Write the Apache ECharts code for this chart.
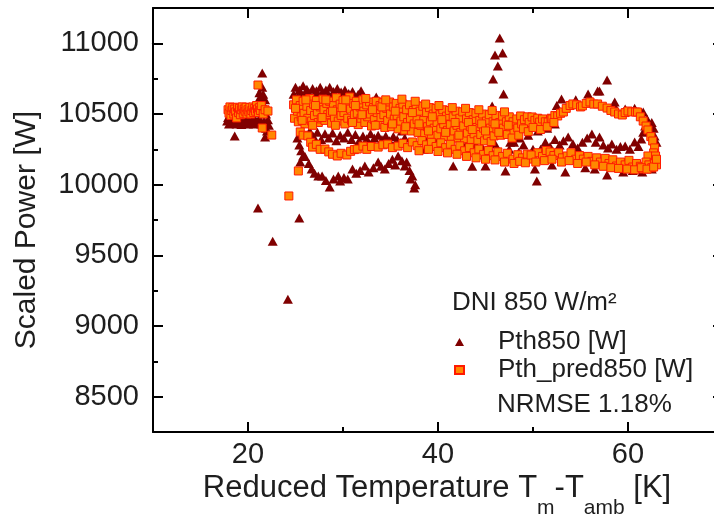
<!DOCTYPE html>
<html><head><meta charset="utf-8">
<script src="https://cdn.jsdelivr.net/npm/echarts@6/dist/echarts.min.js"></script>
<style>html,body{margin:0;padding:0;background:#fff}#c{width:714px;height:522px}</style>
</head><body><div id="c"></div>
<script>
// ---- data (x = Tm - Tamb [K], y = scaled power [W]) ----
const xRange = [10, 70];
const yRange = [8250, 11250];
const xMajor = [20, 60, 20];      // first labelled tick, last labelled tick, step
const yMajor = [8500, 11000, 500];

const pthCluster = [[17.8,10450],[17.9,10475],[18.0,10430],[18.1,10465],[18.3,10440],[18.4,10478],[18.6,10345],[18.6,10455],[18.8,10430],[19.0,10470],[19.1,10445],[19.3,10425],[19.5,10460],[19.6,10440],[19.8,10475],[20.0,10430],[20.1,10455],[20.3,10440],[20.5,10470],[20.6,10430],[20.8,10455],[21.0,10440],[21.2,10470],[21.4,10430],[21.7,10450],[21.8,10337],[21.9,10400],[22.0,10380],[21.1,10600],[21.2,10650],[21.3,10580],[21.4,10620],[21.5,10690],[21.6,10640],[21.7,10560],[21.8,10600],[21.9,10500],[22.1,10460],[22.2,10420],[21.5,10790],[21.05,9835],[22.6,9600],[24.2,9190],[25.4,9765]];
const pthTop = [[24.8,10640],[25.0,10690],[25.2,10620],[25.4,10670],[25.6,10645],[25.8,10700],[26.0,10630],[26.2,10675],[26.4,10650],[26.6,10610],[26.8,10680],[27.0,10640],[27.2,10665],[27.4,10625],[27.6,10690],[27.8,10650],[28.0,10615],[28.2,10670],[28.4,10640],[28.6,10690],[28.8,10620],[29.0,10660],[29.2,10635],[29.4,10680],[29.6,10610],[29.8,10655],[30.0,10630],[30.2,10670],[30.4,10615],[30.6,10645],[30.8,10625],[31.0,10660],[31.3,10610],[31.6,10640],[31.9,10665],[32.2,10620],[32.5,10600],[32.8,10580],[33.2,10590],[33.5,10620],[34.2,10600],[35.0,10560],[36.0,10540],[36.8,10520]];
const pthMid = [[25.2,10330],[25.4,10280],[25.6,10240],[26.5,10380],[26.9,10340],[27.3,10370],[27.7,10320],[28.1,10360],[28.5,10330],[28.9,10365],[29.3,10310],[29.7,10350],[30.1,10330],[30.5,10370],[30.9,10320],[31.3,10355],[31.7,10310],[32.1,10345],[32.5,10325],[32.9,10360],[33.3,10330],[33.7,10350],[34.1,10320],[34.5,10345],[34.9,10310],[35.3,10340],[35.7,10320],[36.1,10300],[36.5,10330],[36.2,10380],[37.6,10420],[38.3,10330],[39.4,10415],[39.8,10360],[40.4,10300],[40.9,10340],[41.8,10514],[42.5,10290],[43.2,10310],[44.6,10270],[46.0,10290],[47.6,10300],[48.6,10330],[49.5,10350],[50.5,10380],[51.5,10400],[52.3,10430]];
const pthLow = [[25.5,10160],[25.8,10203],[26.0,10200],[26.4,10150],[26.7,10111],[27.0,10080],[27.4,10062],[27.8,10062],[28.2,10030],[28.6,9983],[29.0,10040],[29.5,10062],[29.7,10026],[30.1,10050],[30.5,10040],[31.0,10111],[31.4,10080],[31.8,10100],[32.3,10132],[32.7,10090],[33.2,10120],[33.7,10160],[34.0,10130],[34.4,10111],[34.8,10150],[35.2,10180],[35.5,10140],[35.8,10203],[36.2,10170],[36.5,10132],[36.7,10160],[37.0,10100],[37.1,10040],[37.3,10062],[37.6,10000],[37.5,9976]];
const pthRight = [[38.5,10250],[39.0,10330],[40.0,10320],[40.5,10280],[41.0,10350],[41.6,10132],[42.0,10450],[43.0,10250],[43.6,10130],[44.0,10280],[44.5,10210],[45.0,10132],[45.5,10250],[46.5,10220],[47.1,10097],[47.5,10250],[48.0,10300],[48.5,10230],[49.0,10280],[49.5,10200],[50.0,10250],[50.2,10111],[50.4,10026],[50.8,10250],[51.3,10300],[51.8,10270],[52.3,10320],[52.8,10280],[53.2,10310],[53.7,10337],[54.2,10290],[54.7,10260],[55.2,10300],[55.7,10330],[56.2,10358],[56.6,10300],[57.0,10337],[57.4,10280],[57.9,10260],[58.3,10287],[58.8,10250],[59.2,10270],[59.7,10273],[60.2,10250],[60.7,10302],[61.1,10270],[61.4,10323],[61.6,10370],[61.8,10415],[62.0,10465],[62.3,10380],[62.5,10440],[62.7,10400],[62.8,10344],[63.0,10300],[53.0,10606],[52.5,10560],[54.5,10600],[55.8,10642],[56.0,10600],[56.8,10663],[57.0,10663],[57.8,10741],[58.6,10557],[58.6,10585],[59.7,10535],[60.7,10540],[61.6,10514],[62.1,10450],[53.4,10090],[52.0,10140],[55.5,10120],[56.5,10110],[57.8,10068],[59.5,10090],[60.5,10100],[61.5,10090],[62.5,10110]];
const pthSpike = [[45.3,10486],[45.7,10557],[45.8,10748],[46.0,10917],[46.3,10840],[46.5,11037],[46.8,10931],[46.9,10642],[46.2,10380],[45.9,10430]];

const predCluster = [[17.9,10530],[18.0,10505],[18.1,10550],[18.2,10490],[18.3,10525],[18.4,10545],[18.5,10500],[18.6,10535],[18.7,10515],[18.8,10472],[18.9,10548],[19.0,10510],[19.1,10540],[19.2,10495],[19.3,10530],[19.4,10550],[19.5,10505],[19.6,10535],[19.7,10520],[19.8,10548],[19.9,10500],[20.0,10530],[20.1,10515],[20.2,10545],[20.3,10500],[20.4,10525],[20.5,10550],[20.6,10510],[20.7,10540],[20.8,10520],[20.9,10560],[21.0,10535],[21.05,10705],[21.1,10510],[21.2,10545],[21.3,10525],[21.4,10560],[21.5,10401],[21.6,10500],[21.8,10530],[22.1,10521],[22.5,10351],[24.3,9920],[25.3,10097]];
const predUpper = [[24.8,10565],[24.9,10470],[25.1,10600],[25.2,10520],[25.3,10445],[25.5,10560],[25.6,10480],[25.8,10590],[25.9,10505],[26.0,10430],[26.2,10555],[26.3,10470],[26.5,10610],[26.6,10525],[26.7,10450],[26.9,10570],[27.0,10490],[27.2,10595],[27.3,10515],[27.4,10440],[27.6,10550],[27.7,10465],[27.9,10605],[28.0,10530],[28.1,10455],[28.3,10575],[28.4,10495],[28.6,10590],[28.7,10510],[28.8,10435],[29.0,10560],[29.1,10475],[29.3,10615],[29.4,10530],[29.5,10450],[29.7,10570],[29.8,10490],[30.0,10595],[30.1,10510],[30.2,10430],[30.4,10555],[30.5,10470],[30.7,10620],[30.8,10535],[30.9,10455],[31.1,10575],[31.2,10495],[31.4,10590],[31.5,10505],[31.6,10425],[31.8,10550],[31.9,10470],[32.1,10600],[32.2,10520],[32.3,10440],[32.5,10565],[32.6,10480],[32.8,10585],[32.9,10500],[33.0,10415],[33.2,10545],[33.3,10460],[33.5,10590],[33.6,10510],[33.7,10425],[33.9,10560],[34.0,10475],[34.2,10580],[34.3,10495],[34.4,10405],[34.6,10540],[34.7,10455],[34.9,10585],[35.0,10500],[35.1,10410],[35.3,10550],[35.4,10465],[35.6,10575],[35.7,10490],[35.8,10395],[36.0,10540],[36.1,10450],[36.3,10570],[36.4,10480],[36.5,10385],[36.7,10530],[36.8,10440],[37.0,10565],[37.1,10470],[37.2,10380],[37.4,10525],[37.5,10430],[37.7,10560],[37.8,10460],[37.9,10370],[38.1,10520],[38.2,10420],[38.4,10555],[38.5,10455],[38.6,10360],[38.8,10510],[38.9,10410],[39.1,10545],[39.2,10445],[39.3,10355],[39.5,10500],[39.6,10400],[39.8,10540],[39.9,10440],[40.0,10350],[40.2,10495],[40.3,10395],[40.5,10530],[40.6,10430],[40.7,10340],[40.9,10485],[41.0,10385],[41.2,10525],[41.3,10425],[41.4,10335],[41.6,10480],[41.7,10380],[41.9,10520],[42.0,10420],[42.1,10330],[42.3,10470],[42.4,10370],[42.6,10515],[42.7,10415],[42.8,10325],[43.0,10465],[43.1,10365],[43.3,10510],[43.4,10410],[43.5,10320],[43.7,10460],[43.8,10360],[44.0,10505],[44.1,10405],[44.2,10315],[44.4,10455],[44.5,10355],[44.7,10500],[44.8,10400],[44.9,10310],[45.1,10450],[45.2,10350],[45.4,10495],[45.5,10400],[45.6,10305],[45.8,10445],[45.9,10345],[46.1,10490],[46.2,10395],[46.5,10440],[46.6,10350],[46.8,10485],[46.9,10400],[47.2,10445],[47.3,10355],[47.5,10480],[47.6,10410],[47.9,10445],[48.0,10370],[48.3,10465],[48.4,10400],[48.7,10486],[48.8,10430],[49.1,10460],[49.4,10480],[49.6,10440],[49.9,10479],[50.2,10455],[50.5,10470],[50.7,10443],[51.0,10465],[51.3,10445],[51.6,10443],[51.9,10470],[52.0,10465],[52.3,10490],[52.6,10486],[52.9,10505]];
const predFill = [[25.0,10540],[25.7,10455],[26.1,10600],[26.8,10420],[27.1,10560],[27.8,10475],[28.2,10600],[28.9,10520],[29.2,10420],[29.9,10545],[30.3,10600],[31.0,10440],[31.3,10560],[32.0,10495],[32.4,10610],[33.1,10530],[33.4,10420],[34.1,10550],[34.5,10600],[35.2,10430],[35.5,10520],[36.2,10605],[36.6,10410],[37.3,10510],[37.6,10590],[38.0,10430],[38.7,10570],[39.0,10380],[39.4,10480],[40.1,10560],[40.4,10460],[40.8,10370],[41.5,10545],[41.8,10440],[42.2,10350],[42.9,10540],[43.2,10440],[43.6,10390],[44.3,10530],[44.6,10430],[45.0,10380],[45.7,10525],[46.0,10430],[46.4,10370],[47.0,10515],[47.4,10420],[47.8,10330],[48.5,10350],[49.0,10395],[49.5,10375],[50.0,10405],[50.8,10390],[51.5,10410],[52.2,10440]];
const predLoop = [[53.2,10514],[53.5,10540],[53.9,10560],[54.2,10571],[54.6,10565],[55.0,10550],[55.2,10557],[55.6,10575],[56.0,10585],[56.4,10570],[56.8,10571],[57.3,10555],[57.8,10542],[58.2,10525],[58.6,10514],[59.0,10500],[59.4,10493],[59.7,10510],[60.0,10521],[60.4,10515],[60.8,10514],[61.0,10514],[61.3,10480],[61.6,10450],[61.9,10415],[62.1,10387],[62.4,10340],[62.6,10309],[62.8,10260],[62.7,10225],[62.1,10203]];
const predLower = [[25.5,10373],[25.8,10350],[26.3,10345],[26.6,10300],[26.8,10266],[27.2,10285],[27.6,10250],[28.1,10252],[28.5,10232],[28.9,10215],[29.4,10203],[29.8,10222],[30.4,10210],[30.8,10236],[31.2,10248],[31.5,10252],[32.1,10273],[32.5,10250],[33.0,10270],[33.7,10266],[34.2,10282],[34.7,10287],[35.2,10262],[35.8,10273],[36.3,10292],[36.8,10262],[37.3,10302],[37.8,10276],[38.3,10312],[38.8,10282],[39.3,10300],[39.8,10270],[40.3,10296],[40.8,10262],[41.3,10286],[41.8,10250],[42.3,10275],[42.8,10240],[43.3,10262],[43.8,10226],[44.3,10252],[44.8,10214],[45.3,10242],[45.8,10205],[46.3,10232],[46.8,10200],[47.3,10222],[47.9,10181],[48.4,10212],[48.9,10190],[49.4,10216],[50.0,10181],[50.5,10226],[51.0,10200],[51.4,10242],[51.8,10231],[52.2,10206],[52.7,10226],[53.1,10190],[53.6,10203],[54.0,10226],[54.5,10180],[54.9,10206],[55.3,10181],[55.8,10200],[56.2,10165],[56.7,10190],[57.1,10160],[57.6,10186],[58.0,10150],[58.4,10176],[58.8,10132],[59.2,10160],[59.7,10140],[60.1,10172],[60.5,10125],[60.9,10150],[61.3,10130],[61.6,10111],[61.9,10160],[62.2,10140],[62.5,10120],[62.8,10160],[62.9,10203],[63.0,10140],[38.0,10240],[39.0,10250],[40.0,10235],[41.0,10225],[42.0,10215],[43.0,10200],[44.0,10190],[45.0,10180],[46.0,10175],[47.0,10160],[48.0,10150],[48.6,10165],[49.2,10155],[49.8,10210],[50.3,10160],[51.2,10170],[52.0,10180],[53.0,10160],[53.8,10170],[54.7,10150],[55.6,10160],[56.5,10140],[57.4,10130],[58.2,10120],[59.0,10115],[59.9,10110],[60.7,10105],[61.4,10120],[62.0,10110],[62.7,10125],[63.0,10180]];

const pthData = [].concat(pthCluster, pthTop, pthMid, pthLow, pthRight, pthSpike);
const predData = [].concat(predCluster, predUpper, predFill, predLoop, predLower);

// ---- layout ----
const FONT = 'Liberation Sans';
const TXT = '#1e1e1e';
const G = {left: 153, right: -9, top: 8, bottom: 90, W: 714, H: 522};
const plotW = G.W - G.left - G.right, plotH = G.H - G.top - G.bottom;
const pxX = plotW / (xRange[1] - xRange[0]);
const pxY = plotH / (yRange[1] - yRange[0]);
const gX = {left: G.left + (xMajor[0] - xRange[0]) * pxX, right: G.right + (xRange[1] - xMajor[1]) * pxX, top: G.top, bottom: G.bottom};
const gY = {left: G.left, right: G.right, top: G.top + (yRange[1] - yMajor[1]) * pxY, bottom: G.bottom + (yMajor[0] - yRange[0]) * pxY};
const noSplit = {show: false};
const blank = () => '';
const isMajorX = v => v >= xMajor[0] && v <= xMajor[1] && (v - xMajor[0]) % xMajor[2] === 0;
const isMajorY = v => v >= yMajor[0] && v <= yMajor[1] && (v - yMajor[0]) % yMajor[2] === 0;
const tickStyle = () => ({color: '#000', width: 2});
const ghostLabel = {show: true, color: 'rgba(0,0,0,0)', fontSize: 10, formatter: v => String(v)};

function minorX(pos, label) {
  return {gridIndex: 0, type: 'value', position: pos, min: xRange[0], max: xRange[1], interval: 10,
    axisLine: {show: true, onZero: false, lineStyle: tickStyle()},
    axisTick: {show: true, inside: true, length: 5, lineStyle: tickStyle()},
    axisLabel: {show: true, fontSize: 29, fontFamily: FONT, color: TXT, margin: 8,
      formatter: label ? (v => isMajorX(v) ? String(v) : '') : blank},
    splitLine: noSplit};
}
function majorX(pos) {
  return {gridIndex: 1, type: 'value', position: pos, min: xMajor[0], max: xMajor[1], interval: xMajor[2],
    axisLine: {show: true, onZero: false, lineStyle: tickStyle()},
    axisTick: {show: true, inside: true, length: 10, lineStyle: tickStyle()},
    axisLabel: ghostLabel,
    splitLine: noSplit};
}
function minorY(pos, label) {
  return {gridIndex: 0, type: 'value', position: pos, min: yRange[0], max: yRange[1], interval: 250,
    axisLine: {show: true, onZero: false, lineStyle: tickStyle()},
    axisTick: {show: true, inside: true, length: 5, lineStyle: tickStyle()},
    axisLabel: {show: true, fontSize: 29, fontFamily: FONT, color: TXT, margin: 14,
      formatter: label ? (v => isMajorY(v) ? String(v) : '') : blank},
    splitLine: noSplit};
}
function majorY(pos) {
  return {gridIndex: 2, type: 'value', position: pos, min: yMajor[0], max: yMajor[1], interval: yMajor[2],
    axisLine: {show: true, onZero: false, lineStyle: tickStyle()},
    axisTick: {show: true, inside: true, length: 10, lineStyle: tickStyle()},
    axisLabel: ghostLabel,
    splitLine: noSplit};
}
const hiddenAxis = (gi, range) => ({gridIndex: gi, type: 'value', min: range[0], max: range[1], show: false});

const chart = echarts.init(document.getElementById('c'), null, {renderer: 'canvas'});
chart.setOption({
  animation: false,
  backgroundColor: '#fff',
  grid: [
    {left: G.left, right: G.right, top: G.top, bottom: G.bottom, outerBoundsMode: 'none', containLabel: false},
    {left: gX.left, right: gX.right, top: gX.top, bottom: gX.bottom, outerBoundsMode: 'none', containLabel: false},
    {left: gY.left, right: gY.right, top: gY.top, bottom: gY.bottom, outerBoundsMode: 'none', containLabel: false}
  ],
  xAxis: [minorX('bottom', true), minorX('top', false), majorX('bottom'), majorX('top'), hiddenAxis(2, xRange)],
  yAxis: [minorY('left', true), minorY('right', false), hiddenAxis(1, yRange), majorY('left'), majorY('right')],
  legend: {
    left: 454, top: 329, orient: 'vertical', padding: 0, itemGap: 2,
    itemWidth: 9, itemHeight: 8, symbolKeepAspect: true,
    textStyle: {fontSize: 26, fontFamily: FONT, color: TXT, padding: [0, 0, 0, 29]},
    data: ['Pth850 [W]', 'Pth_pred850 [W]']
  },
  series: [
    {name: 'Pth850 [W]', type: 'scatter', xAxisIndex: 0, yAxisIndex: 0, data: pthData,
     symbol: 'triangle', symbolSize: [10, 9], itemStyle: {color: '#800000', opacity: 1}},
    {name: 'Pth_pred850 [W]', type: 'scatter', xAxisIndex: 0, yAxisIndex: 0, data: predData,
     symbol: 'rect', symbolSize: 8, itemStyle: {color: '#FF8800', borderColor: '#FF1A00', borderWidth: 1, opacity: 1}}
  ],
  graphic: [
    {type: 'text', x: 27, y: 230, rotation: Math.PI / 2,
     style: {text: 'Scaled Power [W]', fontSize: 30, fontFamily: FONT, fill: TXT, align: 'center', verticalAlign: 'middle'}},
    {type: 'text', x: 437, y: 488,
     style: {text: '{n|Reduced Temperature T}{s|m}{n|-T}{s|amb}{n| [K]}', align: 'center', verticalAlign: 'middle',
       rich: {n: {fontSize: 31, fontFamily: FONT, fill: TXT, lineHeight: 62},
              s: {fontSize: 21, fontFamily: FONT, fill: TXT, verticalAlign: 'bottom'}}}},
    {type: 'text', x: 452, y: 303,
     style: {text: 'DNI 850 W/m²', fontSize: 26, fontFamily: FONT, fill: TXT, align: 'left', verticalAlign: 'middle'}},
    {type: 'text', x: 497, y: 405,
     style: {text: 'NRMSE 1.18%', fontSize: 26, fontFamily: FONT, fill: TXT, align: 'left', verticalAlign: 'middle'}}
  ]
});
</script>
</body></html>
